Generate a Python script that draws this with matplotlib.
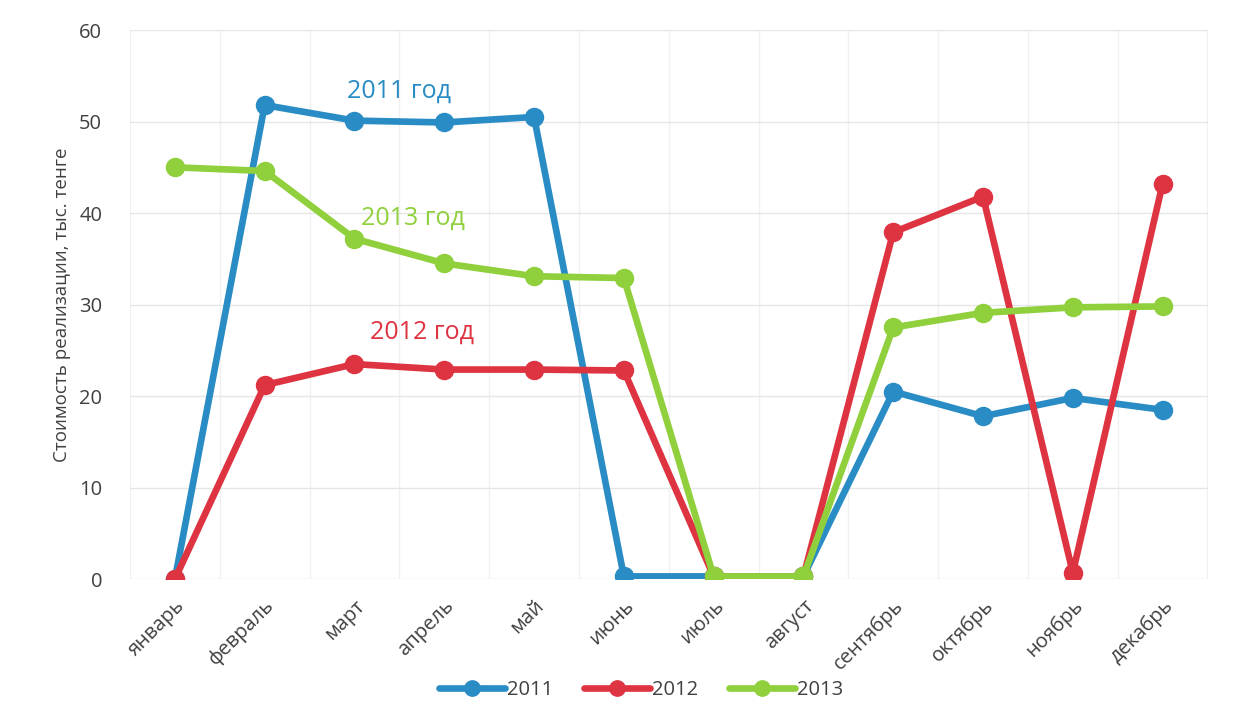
import matplotlib.pyplot as plt

plt.rcParams['font.family'] = ['Open Sans', 'DejaVu Sans']

months = ['январь', 'февраль', 'март', 'апрель', 'май', 'июнь',
          'июль', 'август', 'сентябрь', 'октябрь', 'ноябрь', 'декабрь']
v2011 = [0, 51.8, 50.1, 49.9, 50.5, 0.3, 0.3, 0.3, 20.5, 17.8, 19.8, 18.5]
v2012 = [0, 21.2, 23.5, 22.9, 22.9, 22.8, 0.3, 0.3, 37.9, 41.8, 0.7, 43.2]
v2013 = [45.0, 44.6, 37.2, 34.5, 33.1, 32.9, 0.3, 0.3, 27.5, 29.1, 29.7, 29.8]

blue = '#2a8cc4'
red = '#de3341'
green = '#8fd03c'

fig = plt.figure(figsize=(12.5, 7.15), dpi=100)
ax = fig.add_axes([0.104, 0.19, 0.862, 0.768])

x = range(len(months))
for vals, col, lab in [(v2011, blue, '2011'), (v2012, red, '2012'), (v2013, green, '2013')]:
    ax.plot(x, vals, color=col, lw=4.8, marker='o', ms=13,
            mfc=col, mec=col, label=lab, solid_capstyle='round', zorder=3)

ax.set_xlim(-0.5, len(months) - 0.5)
ax.set_ylim(0, 60)
ax.set_yticks(range(0, 61, 10))
ax.set_xticks(list(x))
ax.set_xticklabels(months, rotation=45, ha='right', rotation_mode='anchor')
ax.tick_params(axis='both', which='both', length=0, labelsize=14.5, labelcolor='#404040')
ax.tick_params(axis='y', pad=20)
ax.tick_params(axis='x', pad=12)

ax.set_xticks([i + 0.5 for i in range(-1, len(months))], minor=True)
ax.grid(True, which='major', axis='y', color='#e6e6e6', lw=1)
ax.grid(True, which='minor', axis='x', color='#f0f0f0', lw=1)
for s in ax.spines.values():
    s.set_visible(False)

ax.set_ylabel('Стоимость реализации, тыс. тенге', fontsize=13.5, color='#404040', labelpad=6)

ax.text(2.5, 53.3, '2011 год', color=blue, fontsize=18, ha='center', va='center')
ax.text(2.65, 39.4, '2013 год', color=green, fontsize=18, ha='center', va='center')
ax.text(2.75, 27.0, '2012 год', color=red, fontsize=18, ha='center', va='center')

fig.legend(loc='lower center', ncol=3, frameon=False, fontsize=14.5,
           bbox_to_anchor=(0.513, -0.005), handlelength=3.3, handletextpad=0.1,
           columnspacing=1.5, markerscale=0.85, labelcolor='#404040')

fig.savefig('out.png')
